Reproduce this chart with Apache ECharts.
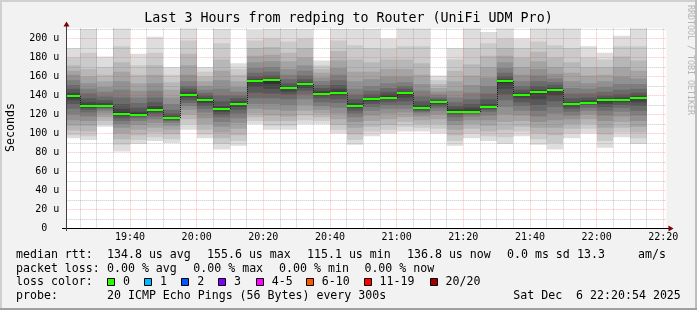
<!DOCTYPE html>
<html><head><meta charset="utf-8">
<script src="https://cdn.jsdelivr.net/npm/echarts@6/dist/echarts.min.js"></script>
<style>html,body{margin:0;padding:0;background:#f2f2f2}#c{width:697px;height:310px}</style>
</head><body><div id="c"></div>
<script>
// ---------- data ----------
const windowStart = "19:20:54";
const windowEnd = "22:20:54";
const stepEnds = ["19:25","19:30","19:35","19:40","19:45","19:50","19:55","20:00","20:05","20:10",
  "20:15","20:20","20:25","20:30","20:35","20:40","20:45","20:50","20:55","21:00",
  "21:05","21:10","21:15","21:20","21:25","21:30","21:35","21:40","21:45","21:50",
  "21:55","22:00","22:05","22:10","22:15"];
const medians = [139.0,129.2,129.2,120.8,119.7,125.0,115.8,140.8,134.8,125.3,
  131.3,154.9,156.0,147.5,151.7,141.9,142.9,128.5,135.9,137.7,
  142.2,126.4,132.7,122.9,122.9,127.4,154.9,140.1,143.3,145.8,
  130.6,132.4,134.8,134.8,136.9];
// 20 sorted ping RTTs (microseconds) per 5-minute step
const pings = [
  [95,98,103,108,114,120,126,131,135,138,140,143,147,151,156,162,166,172,180,190],
  [93,97,102,108,113,118,122,125,127,129,130,133,137,142,147,153,160,168,185,210],
  [107,110,113,117,121,124,126,127,128,129,130,132,135,139,144,149,155,162,170,181],
  [81,88,94,100,106,110,113,116,119,121,122,126,131,138,146,155,165,175,192,211],
  [89,93,98,104,109,113,116,118,119,120,121,123,127,132,138,145,153,162,172,184],
  [92,96,101,106,111,115,118,121,123,125,126,129,133,138,145,153,162,172,185,202],
  [90,94,99,104,108,111,113,114,115,115.5,116,118,121,125,131,138,146,154,162,170],
  [104,110,115,120,125,129,132,135,138,141,141.5,144,147,150,155,162,172,184,198,211],
  [95,99,104,110,116,122,126,129,132,134,135.5,137,140,143,146,150,155,160,165,170],
  [83,89,95,101,107,112,117,120,123,125,126,129,134,140,147,156,166,178,195,210],
  [87,92,98,105,111,116,121,125,128,131,132,134,137,140,144,149,155,162,168,174],
  [110,113,117,121,126,131,137,143,149,154,155.5,157,160,164,169,175,182,190,198,209],
  [104,108,113,119,125,131,137,142,147,152,156,158,161,165,170,176,183,191,200,210],
  [104,108,113,118,124,130,136,141,144,147,148,150,153,157,162,168,176,185,197,210],
  [110,114,119,124,130,136,141,145,148,151,152,154,157,161,166,172,180,190,200,210],
  [110,113,117,121,125,129,133,137,140,142,143,145,148,151,155,159,164,168,172,177],
  [100,104,109,115,121,127,132,136,140,143,144,147,151,156,162,169,177,187,198,210],
  [88,93,99,106,112,117,121,124,127,128.5,129,132,136,141,147,155,165,178,193,210],
  [97,102,107,113,119,124,128,131,134,135.5,136.5,138,141,145,150,157,165,175,190,210],
  [100,104,109,115,121,126,130,133,136,138,139,141,144,148,153,160,168,178,189,200],
  [102,107,112,117,122,126,130,134,138,141,142.5,144,147,150,154,160,168,178,192,211],
  [102,106,110,114,118,121,123,124,125.5,126,127,130,134,139,145,152,162,174,192,211],
  [100,105,110,115,120,124,127,129,131,132.5,133,134,136,138,141,144,148,152,156,161],
  [87,92,98,104,109,113,117,120,122,123,124,126,129,133,138,145,155,166,178,190],
  [95,100,105,110,114,118,120,122,123,123.5,124,127,131,136,143,151,161,173,190,211],
  [92,97,102,108,114,119,123,125,126.5,127.4,128,131,136,142,150,159,170,182,195,207],
  [89,96,104,112,120,128,135,141,147,153,155.5,157,160,164,169,175,182,190,200,211],
  [97,102,107,113,119,124,129,133,137,140,141,143,146,150,155,162,170,180,190,200],
  [88,94,100,106,112,118,124,130,136,142,143.5,146,150,155,161,168,176,186,197,211],
  [83,90,98,106,114,121,128,134,140,145,146.5,148,151,154,158,163,170,180,193,211],
  [95,100,105,110,115,119,123,126,128.5,130.5,131,133,137,142,148,155,164,175,190,211],
  [100,105,110,115,120,124,127,130,131.5,132.4,133,135,138,142,147,153,161,170,180,192],
  [85,92,99,106,113,119,124,128,131,134,135.5,137,140,144,149,155,162,170,178,185],
  [96,101,106,112,118,123,127,130,133,134.8,135.5,138,141,146,152,160,170,181,192,203],
  [89,95,101,107,113,119,124,129,133,136.5,137.5,140,143,147,152,158,166,177,192,211]
];
const rttStats = ["134.8 us avg","155.6 us max","115.1 us min","136.8 us now","0.0 ms sd","13.3","am/s"];
const lossStats = ["0.00 % avg","0.00 % max","0.00 % min","0.00 % now"];
const lossLabels = ["0","1","2","3","4-5","6-10","11-19","20/20"];
const lossColors = ["#26ff00","#00b8ff","#0059ff","#7e00ff","#ff00ff","#ff5500","#ff0000","#a10000"];
const titleText = "Last 3 Hours from redping to Router (UniFi UDM Pro)";
const probeText = "20 ICMP Echo Pings (56 Bytes) every 300s";
const dateText = "Sat Dec  6 22:20:54 2025";

// ---------- helpers ----------
function toMin(s){const p=s.split(':').map(Number);return p[0]*60+p[1]+(p[2]||0)/60;}
function fmtTime(v){const h=Math.floor(v/60), m=Math.round(v-h*60);return h+':'+(m<10?'0':'')+m;}
const tStart = toMin(windowStart), tEnd = toMin(windowEnd);
const MONO = "'DejaVu Sans Mono', 'Liberation Mono', monospace";
const HALF = 10;
function shade(b){const c=Math.floor(190/HALF*(HALF-(b+1)))+50;const h=c.toString(16).padStart(2,'0');return '#'+h+h+h;}

const smokeData = stepEnds.map((e,i)=>[i===0?tStart:toMin(stepEnds[i-1]), toMin(e)].concat(pings[i]));
const medData = stepEnds.map((e,i)=>[i===0?tStart:toMin(stepEnds[i-1]), toMin(e), medians[i], i===0?medians[0]:medians[i-1]]);

const RED = 'rgba(255,40,40,0.32)';
const GRAY = 'rgba(120,120,120,0.42)';

const chart = echarts.init(document.getElementById('c'), null, {renderer:'canvas'});

const L = 16, C1 = 107;
const y1 = 254.5, y2 = 268.5, y3 = 282.3, y4 = 296.3;
function txt(x,y,t,opt){return Object.assign({type:'text',x:x,y:y,z:100,style:{text:t,font:'11.6px '+MONO,fill:'#000',align:'left',verticalAlign:'middle'}},opt||{});}
const rttX = [107,207,307,407,507,577,638];
const lossX = [107,193.3,279.1,364.4];
const lossTX = [123,160,197.3,234,271.7,321.8,379.5,445.5];
const graphics = [
  {type:'rect',shape:{x:0,y:0,width:697,height:310},style:{fill:'#f2f2f2'},z:-10},
  {type:'rect',shape:{x:0,y:0,width:697,height:2},style:{fill:'#d0d0d0'},z:-5},
  {type:'rect',shape:{x:0,y:0,width:2,height:310},style:{fill:'#d0d0d0'},z:-5},
  {type:'rect',shape:{x:695,y:0,width:2,height:310},style:{fill:'#bdbdbd'},z:-5},
  {type:'rect',shape:{x:0,y:308,width:697,height:2},style:{fill:'#a0a0a0'},z:-5},
  {type:'text',x:348.5,y:19,z:100,style:{text:titleText,font:'13.3px '+MONO,fill:'#000',align:'center',verticalAlign:'middle'}},
  {type:'text',x:10.5,y:127.5,rotation:Math.PI/2,z:100,style:{text:'Seconds',font:'11.6px '+MONO,fill:'#000',align:'center',verticalAlign:'middle'}},
  {type:'text',x:690.5,y:5,rotation:-Math.PI/2,z:100,style:{text:'RRDTOOL / TOBI OETIKER',font:'8.3px '+MONO,fill:'#b4b4b4',align:'left',verticalAlign:'middle'}},
  txt(L,y1,'median rtt:'), txt(L,y2,'packet loss:'), txt(L,y3,'loss color:'), txt(L,y4,'probe:'),
  txt(C1,y4,probeText), txt(513.3,y4,dateText),
  {type:'line',shape:{x1:62,y1:228.5,x2:669,y2:228.5},style:{stroke:'#000',lineWidth:1},z:50},
  {type:'line',shape:{x1:66.5,y1:231,x2:66.5,y2:25},style:{stroke:'#404040',lineWidth:1},z:50},
  {type:'polygon',shape:{points:[[63.5,26.5],[69.5,26.5],[66.5,21.5]]},style:{fill:'#7f0000'},z:51},
  {type:'polygon',shape:{points:[[668.5,225.5],[668.5,231.5],[673.5,228.5]]},style:{fill:'#7f0000'},z:51}
];
rttStats.forEach((s,i)=>graphics.push(txt(rttX[i],y1,s)));
lossStats.forEach((s,i)=>graphics.push(txt(lossX[i],y2,s)));
lossLabels.forEach((s,i)=>{
  graphics.push(txt(lossTX[i],y3,s));
  graphics.push({type:'rect',z:100,shape:{x:Math.round(lossTX[i]-16)+0.5,y:278.5,width:7,height:7},style:{fill:lossColors[i],stroke:'#000',lineWidth:1}});
});

const option = {
  animation:false,
  backgroundColor:'#f2f2f2',
  grid:[
    {left:66.33,top:28.33,width:600,height:200,show:true,backgroundColor:'#ffffff',borderWidth:0},
    {left:63.33,top:28.33,width:600,height:200,show:false}
  ],
  xAxis:[
    {gridIndex:0,type:'value',min:tStart,max:tEnd,axisLine:{show:false},axisTick:{show:false},axisLabel:{show:false},splitLine:{show:false}},
    {gridIndex:1,type:'value',min:1160,max:1340,interval:20,z:2,
     axisLine:{show:false},axisTick:{show:false},
     axisLabel:{show:true,showMinLabel:false,showMaxLabel:true,margin:4,formatter:v=>fmtTime(v),fontFamily:MONO,fontSize:10,color:'#000'},
     splitLine:{show:true,showMinLine:false,showMaxLine:true,lineStyle:{color:RED,width:1,type:[1,1]}},
     minorTick:{show:false,splitNumber:4},
     minorSplitLine:{show:true,lineStyle:{color:GRAY,width:1,type:[1,1]}}}
  ],
  yAxis:[
    {gridIndex:0,type:'value',min:0,max:210.8,interval:10,z:2,
     axisLine:{show:false},axisTick:{show:false},
     axisLabel:{show:true,showMaxLabel:false,margin:7,fontFamily:MONO,fontSize:10,color:'#000',
       formatter:v=>v===0?'0  ':(Math.round(v)%20===0&&v<=200?Math.round(v)+' u':'')},
     splitLine:{show:true,showMinLine:true,showMaxLine:false,lineStyle:{color:[RED,GRAY],width:1,type:[1,1]}}},
    {gridIndex:1,type:'value',min:0,max:1,show:false}
  ],
  graphic:graphics,
  series:[
    {type:'custom',name:'smoke',xAxisIndex:0,yAxisIndex:0,z:1,clip:true,data:smokeData,
     renderItem:function(params,api){
       const x0=api.value(0), x1=api.value(1);
       const children=[];
       for(let b=0;b<HALF;b++){
         const lo=api.value(2+b), hi=api.value(2+19-b);
         const p0=api.coord([x0,hi]), p1=api.coord([x1,lo]);
         const xa=Math.round(p0[0]), xb=Math.round(p1[0]);
         children.push({type:'rect',shape:{x:xa,y:p0[1],width:xb-xa,height:p1[1]-p0[1]},style:{fill:shade(b)}});
       }
       return {type:'group',children:children};
     }},
    {type:'custom',name:'median',xAxisIndex:0,yAxisIndex:0,z:3,clip:true,data:medData,
     renderItem:function(params,api){
       const x0=api.value(0), x1=api.value(1), m=api.value(2), pm=api.value(3);
       const a=api.coord([x0,m]), b=api.coord([x1,m]), c=api.coord([x0,pm]);
       const xa=Math.round(a[0]), xb=Math.round(b[0]), ym=Math.round(a[1]), yp=Math.round(c[1]);
       const ch=[];
       if(yp!==ym) ch.push({type:'line',shape:{x1:xa+0.5,y1:yp,x2:xa+0.5,y2:ym},style:{stroke:'#202020',lineWidth:1,lineDash:[1,1]}});
       ch.push({type:'line',shape:{x1:xa,y1:ym,x2:xb,y2:ym},style:{stroke:'#26ff00',lineWidth:2}});
       return {type:'group',children:ch};
     }}
  ]
};
chart.setOption(option);
</script></body></html>
